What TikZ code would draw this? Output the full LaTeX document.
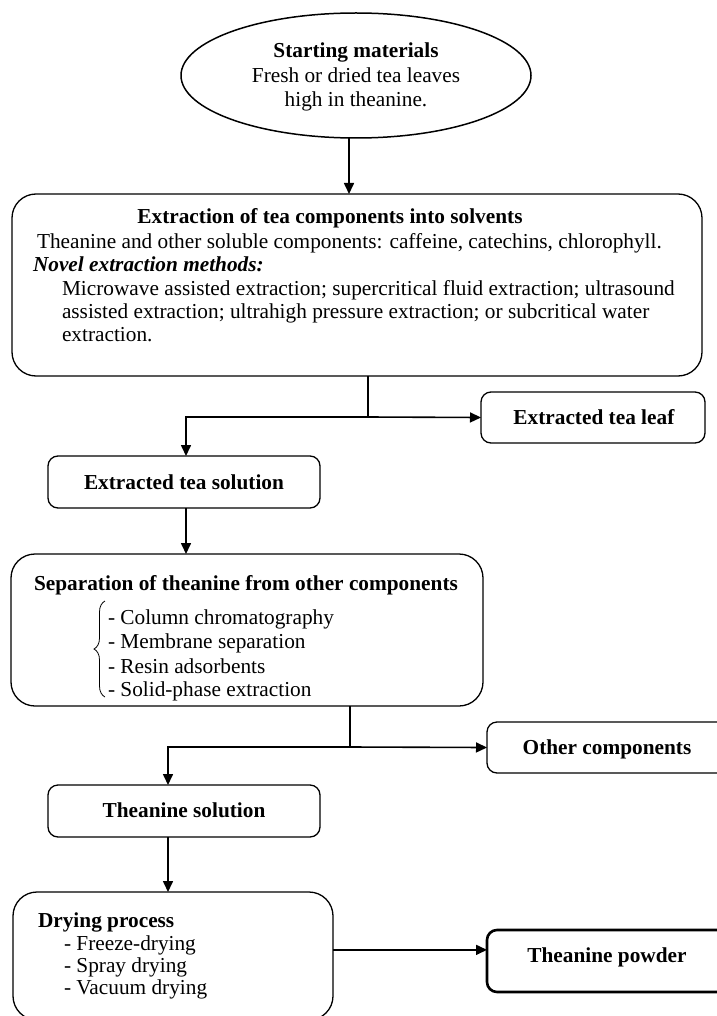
\documentclass[tikz,border=0pt]{standalone}
\usepackage{fontspec}
\setmainfont{Liberation Serif}
\usetikzlibrary{shapes.geometric,arrows.meta,decorations.pathreplacing}
\begin{document}
\begin{tikzpicture}[x=1pt,y=-1pt,
  every node/.style={inner sep=0pt, outer sep=0pt, font=\fontsize{21.3}{24}\selectfont},
  bigbox/.style={draw, line width=1.3pt, rounded corners=24pt},
  smallbox/.style={draw, line width=1.3pt, rounded corners=10pt},
  conn/.style={line width=1.6pt},
  arr/.style={line width=1.6pt, -{Triangle[length=11pt,width=10pt]}},
  txt/.style={anchor=base west},
  ctxt/.style={anchor=base},
]
\useasboundingbox (0,0) rectangle (716,1016);
% boxes
\node[draw, ellipse, line width=1.5pt, minimum width=350pt, minimum height=125pt] (start) at (356,75.5) {};
\node[bigbox, minimum width=690pt, minimum height=182pt] (ext) at (357,285) {};
\node[smallbox, minimum width=224pt, minimum height=51pt] (leaf) at (593,417.5) {};
\node[smallbox, minimum width=272pt, minimum height=52pt] (sol) at (184,482) {};
\node[bigbox, minimum width=472pt, minimum height=152pt] (sep) at (247,630) {};
\node[smallbox, minimum width=240pt, minimum height=51pt] (other) at (607,747.5) {};
\node[smallbox, minimum width=272pt, minimum height=52pt] (tsol) at (184,811) {};
\node[bigbox, minimum width=320pt, minimum height=128pt] (dry) at (173,956) {};
\node[smallbox, line width=2.6pt, minimum width=240pt, minimum height=62pt] (powder) at (607,961) {};
% texts
\node[ctxt] (s1) at (356,58) {\textbf{Starting materials}};
\node[ctxt] (s2) at (356,83) {Fresh or dried tea leaves};
\node[ctxt] (s3) at (356,107) {high in theanine.};
\node[ctxt] (e1) at (330,224) {\textbf{Extraction of tea components into solvents}};
\node[txt] (e2) at (37,248) {Theanine and other soluble components: caffeine, catechins, chlorophyll.};
\node[txt] (e3) at (33,271) {\textbf{\textit{Novel extraction methods:}}};
\node[txt] (e4) at (62,295) {Microwave assisted extraction; supercritical fluid extraction; ultrasound};
\node[txt] (e5) at (62,318) {assisted extraction; ultrahigh pressure extraction; or subcritical water};
\node[txt] (e6) at (62,341) {extraction.};
\node[ctxt] (l1) at (594,424) {\textbf{Extracted tea leaf}};
\node[ctxt] (o1) at (184,489) {\textbf{Extracted tea solution}};
\node[ctxt] (p1) at (246,590) {\textbf{Separation of theanine from other components}};
\node[txt] (p2) at (108,624) {- Column chromatography};
\node[txt] (p3) at (108,648) {- Membrane separation};
\node[txt] (p4) at (108,673) {- Resin adsorbents};
\node[txt] (p5) at (108,696) {- Solid-phase extraction};
\draw[line width=0.8pt, decorate, decoration={brace, amplitude=11pt, aspect=0.5}] (105,697) -- (105,601);
\node[ctxt] (c1) at (607,754) {\textbf{Other components}};
\node[ctxt] (t1) at (184,817) {\textbf{Theanine solution}};
\node[txt] (d1) at (38,927) {\textbf{Drying process}};
\node[txt] (d2) at (64,950) {- Freeze-drying};
\node[txt] (d3) at (64,972) {- Spray drying};
\node[txt] (d4) at (64,994) {- Vacuum drying};
\node[ctxt] (w1) at (607,962) {\textbf{Theanine powder}};
% connectors
\coordinate (a0) at (349,137);
\coordinate (j1) at (368,417);
\coordinate (j2) at (350,747);
\draw[arr] (a0) -- (a0 |- ext.north);
\draw[conn] (j1 |- ext.south) -- (j1);
\draw[arr] (j1) -- (leaf.west);
\draw[arr] (j1) -| ([xshift=2pt]sol.north);
\draw[arr] ([xshift=2pt]sol.south) -- ([xshift=2pt]sol.south |- sep.north);
\draw[conn] (j2 |- sep.south) -- (j2);
\draw[arr] (j2) -- (other.west);
\draw[arr] (j2) -| ([xshift=-16pt]tsol.north);
\draw[arr] ([xshift=-16pt]tsol.south) -- ([xshift=-16pt]tsol.south |- dry.north);
\draw[arr] (dry.east |- w1) ++(0,-7) coordinate (a5) (a5) -- (a5 -| powder.west);
\end{tikzpicture}
\end{document}
